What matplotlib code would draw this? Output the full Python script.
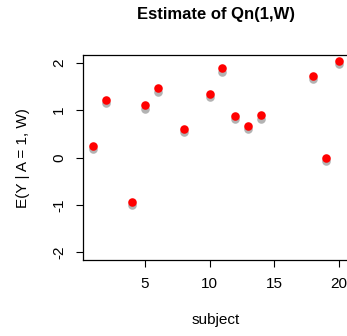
import matplotlib
matplotlib.use("Agg")
import matplotlib.pyplot as plt

plt.rcParams["font.family"] = ["Liberation Sans", "DejaVu Sans"]

subject = [1, 2, 4, 5, 6, 8, 10, 11, 12, 13, 14, 18, 19, 20]
estimate = [0.25, 1.22, -0.93, 1.10, 1.46, 0.60, 1.34, 1.88, 0.88, 0.67, 0.89, 1.72, 0.0, 2.04]
shadow = [0.18, 1.15, -1.00, 1.03, 1.39, 0.53, 1.27, 1.81, 0.81, 0.60, 0.82, 1.65, -0.07, 1.97]

fig = plt.figure(figsize=(3.47, 3.36), dpi=100)
ax = fig.add_axes([0.239, 0.226, 0.767, 0.61])

ax.scatter(subject, shadow, s=38, color="#b3b3b3", linewidths=0, zorder=2)
ax.scatter(subject, estimate, s=38, color="red", linewidths=0, zorder=3)

ax.set_xlim(0.24, 20.76)
ax.set_ylim(-2.16, 2.16)
ax.set_xticks([5, 10, 15, 20])
ax.set_yticks([-2, -1, 0, 1, 2])
ax.set_yticklabels(["-2", "-1", "0", "1", "2"], rotation=90, va="center")
ax.tick_params(direction="out", length=5, width=0.8, labelsize=11, pad=7)
for sp in ax.spines.values():
    sp.set_linewidth(0.9)

ax.set_title("Estimate of Qn(1,W)", fontsize=12, fontweight="bold", pad=26)
ax.set_xlabel("subject", fontsize=11, labelpad=16)
ax.set_ylabel("E(Y | A = 1, W)", fontsize=11, labelpad=16)

fig.savefig("out.png", dpi=100)
